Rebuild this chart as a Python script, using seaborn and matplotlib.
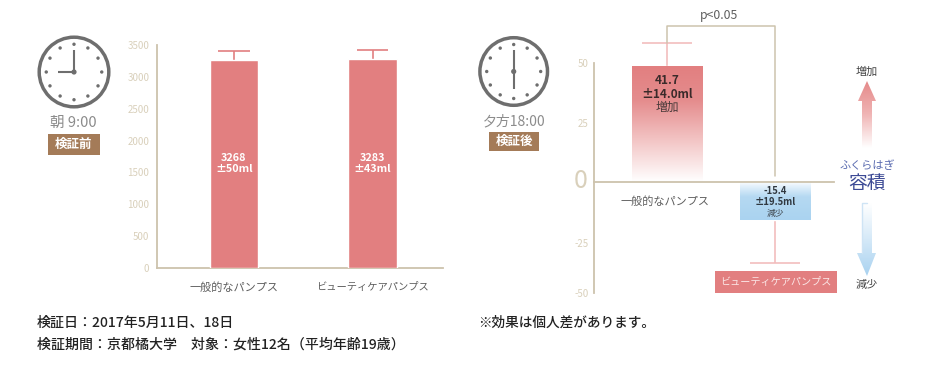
import numpy as np
import matplotlib
matplotlib.use("Agg")
import matplotlib.pyplot as plt
from matplotlib.colors import LinearSegmentedColormap
from matplotlib.patches import Circle, Polygon, Rectangle
import seaborn as sns

# data
pumps = ["一般的なパンプス", "ビューティケアパンプス"]
before_values = [3268, 3283]
before_whisker = [3400, 3420]
before_labels = ["3268\n±50ml", "3283\n±43ml"]
before_ticks = [0, 500, 1000, 1500, 2000, 2500, 3000, 3500]

# heights as drawn in the picture, the printed numbers differ
after_values = [48.7, -16.0]
after_whisker = [58.4, -34.0]
after_ticks = [50, 24.8, 0, -25.6, -46.6]
after_ticklabels = ["50", "25", "", "-25", "-50"]

BEIGE = "#cdc3ad"
TICK = "#d9d0bb"
GREY = "#5e5e5e"
RED = "#e27f80"
PINK = "#f2bdbd"
BROWN = "#a47b58"

sns.set_theme(style="white")
plt.rcParams["font.family"] = ["Noto Sans CJK JP", "DejaVu Sans"]

W, H = 930, 365
fig = plt.figure(figsize=(W / 100, H / 100), dpi=100)


def px_axes(left, right, top, bottom):
    return fig.add_axes([left / W, 1 - bottom / H, (right - left) / W, (bottom - top) / H])


# left chart
ax1 = px_axes(157, 443, 45, 268)
sns.barplot(x=pumps, y=before_values, ax=ax1, color=RED, saturation=1, width=0.35, zorder=3)
ax1.vlines([0, 1], before_values, before_whisker, color=RED, lw=1.2, zorder=2)
ax1.hlines(before_whisker, [-0.115, 0.885], [0.115, 1.115], color=RED, lw=1.2, zorder=2)
ax1.set_xlim(-0.556, 1.509)
ax1.set_ylim(0, 3500)
ax1.set_yticks(before_ticks)
ax1.tick_params(axis="y", length=0, pad=5.5, labelsize=7, labelcolor=TICK)
ax1.tick_params(axis="x", length=0, pad=10, labelcolor=GREY)
ax1.get_xticklabels()[0].set_fontsize(8)
ax1.get_xticklabels()[1].set_fontsize(7.4)
ax1.set_ylabel("")
for s in ["top", "right"]:
    ax1.spines[s].set_visible(False)
for s in ["left", "bottom"]:
    ax1.spines[s].set_color(BEIGE)
    ax1.spines[s].set_linewidth(1.3)
for i, txt in enumerate(before_labels):
    ax1.text(i, 1640, txt, ha="center", va="center", color="white", fontsize=7.8,
             fontweight="bold", linespacing=1.1, zorder=5)

# right chart
ax2 = px_axes(594, 834, 10, 293)
sns.barplot(x=pumps, y=after_values, ax=ax2, color="white", saturation=1, width=0.65, zorder=3)
ax2.vlines([0, 1], after_values, after_whisker, color=PINK, lw=1.2, zorder=2)
ax2.hlines(after_whisker, [-0.235, 0.765], [0.235, 1.235], color=PINK, lw=1.2, zorder=2)

cmap_red = LinearSegmentedColormap.from_list("r", [(0, RED), (0.3, "#e58d8e"), (0.65, "#f3c6c6"), (1, "#ffffff")])
cmap_blue = LinearSegmentedColormap.from_list("b", [(0, "#ffffff"), (0.12, "#e6f2fb"), (0.4, "#b5d9f2"), (1, "#aad3f0")])
for bar, cm in zip(ax2.patches, [cmap_red, cmap_blue]):
    x0, w = bar.get_x(), bar.get_width()
    y0, h = bar.get_y(), bar.get_height()
    grad = np.linspace(0, 1, 128).reshape(-1, 1)
    ax2.imshow(grad, extent=(x0, x0 + w, min(y0, y0 + h), max(y0, y0 + h)),
               cmap=cm, aspect="auto", origin="upper", zorder=4)
ax2.set_xlim(-0.676, 1.546)
ax2.set_ylim(-46.6, 72.3)

ax2.set_yticks(after_ticks)
ax2.set_yticklabels(after_ticklabels)
ax2.tick_params(axis="y", length=0, pad=4, labelsize=7, labelcolor=TICK)
ax2.set_xticks([])
ax2.set_ylabel("")
for s in ["top", "right"]:
    ax2.spines[s].set_visible(False)
ax2.spines["bottom"].set_position(("data", 0))
ax2.spines["bottom"].set_zorder(7)
for s in ["left", "bottom"]:
    ax2.spines[s].set_color(BEIGE)
    ax2.spines[s].set_linewidth(1.3)
ax2.spines["left"].set_bounds(-46.6, 50)
ax2.patch.set_alpha(0)

# bracket
ax2.plot([0, 0, 1, 1], [58.4, 65.5, 65.5, 2.7], color=BEIGE, lw=1.1, zorder=2)

ax2.text(0.0, 42.6, "41.7", ha="center", va="center", fontsize=8.5, fontweight="bold", color="#3a2a2a", zorder=6)
ax2.text(0.0, 36.9, "±14.0ml", ha="center", va="center", fontsize=8.5, fontweight="bold", color="#3a2a2a", zorder=6)
ax2.text(0.0, 31.3, "増加", ha="center", va="center", fontsize=8.5, color="#4a3a3a", zorder=6)
ax2.text(1.0, -3.9, "-15.4", ha="center", va="center", fontsize=6.8, fontweight="bold", color="#303840", zorder=6)
ax2.text(1.0, -8.4, "±19.5ml", ha="center", va="center", fontsize=6.8, fontweight="bold", color="#303840", zorder=6)
ax2.text(1.0, -13.0, "減少", ha="center", va="center", fontsize=6.3, color="#404850", zorder=6)

# overlay in pixel coordinates for clocks, badges, notes
ov = fig.add_axes([0, 0, 1, 1], zorder=10)
ov.axis("off")
ov.patch.set_alpha(0)

CLOCK = "#6e6e6e"


def clock(cx, cy, r, hands):
    ov.add_patch(Circle((cx, cy), r - 1.7, fill=False, ec=CLOCK, lw=2.5))
    for a in np.arange(12) * np.pi / 6:
        ov.add_patch(Circle((cx + 0.76 * r * np.sin(a), cy - 0.76 * r * np.cos(a)), 1.7, fc=CLOCK, ec="none"))
    for dx, dy in hands:
        ov.plot([cx, cx + dx], [cy, cy + dy], color=CLOCK, lw=1.5, solid_capstyle="butt")
    ov.add_patch(Circle((cx, cy), 2.6, fc=CLOCK, ec="none"))


clock(74, 72, 36.5, [(-16, 0), (0, -22)])
clock(513.7, 71.5, 35.5, [(0, 17), (0, -21.5)])

ov.text(73, 123, "朝 9:00", ha="center", va="center", fontsize=10.5, color="#8c8c8c")
ov.text(514, 121, "夕方18:00", ha="center", va="center", fontsize=10, color="#8c8c8c")
ov.add_patch(Rectangle((48, 134), 52, 21, fc=BROWN, ec="none"))
ov.add_patch(Rectangle((489, 132), 50, 19, fc=BROWN, ec="none"))
ov.text(73.5, 144.5, "検証前", ha="center", va="center", fontsize=9, fontweight="bold", color="white")
ov.text(514, 141.5, "検証後", ha="center", va="center", fontsize=9, fontweight="bold", color="white")

ov.text(574, 181.5, "0", ha="left", va="center", fontsize=18, color=TICK)
ov.text(719, 16, "p<0.05", ha="center", va="center", fontsize=8.8, color=GREY)
ov.text(665.5, 202, pumps[0], ha="center", va="center", fontsize=8, color=GREY)
ov.add_patch(Rectangle((715, 271), 122, 22, fc=RED, ec="none"))
ov.text(776, 282, pumps[1], ha="center", va="center", fontsize=7.3, color="#fbe6e6")

# gradient arrows
up = Polygon([(867, 81), (876, 101), (872, 101), (872, 148), (862, 148), (862, 101), (858, 101)],
             closed=True, fc="none", ec="none")
ov.add_patch(up)
im = ov.imshow(np.linspace(0, 1, 128).reshape(-1, 1), extent=(855, 879, 148, 81), origin="upper", aspect="auto",
               cmap=LinearSegmentedColormap.from_list("u", ["#e58a8a", "#f0b5b5", "#ffffff"]))
im.set_clip_path(up)
down = Polygon([(867, 276), (876, 253), (872, 253), (872, 203), (862, 203), (862, 253), (857, 253)],
               closed=True, fc="none", ec="none")
ov.add_patch(down)
im = ov.imshow(np.linspace(0, 1, 128).reshape(-1, 1), extent=(855, 879, 276, 203), origin="upper", aspect="auto",
               cmap=LinearSegmentedColormap.from_list("d", ["#ffffff", "#d5e9f8", "#a9d2f0"]))
im.set_clip_path(down)
ov.plot([862, 862, 867], [253, 203, 203], color="#cfe4f5", lw=1)
ov.set_xlim(0, W)
ov.set_ylim(H, 0)

ov.text(867, 72, "増加", ha="center", va="center", fontsize=8, color="#444444")
ov.text(867, 285, "減少", ha="center", va="center", fontsize=8, color="#444444")
ov.text(867, 166, "ふくらはぎ", ha="center", va="center", fontsize=8, color="#5a6bb0")
ov.text(867, 183, "容積", ha="center", va="center", fontsize=13.5, color="#3c4a95")

ov.text(37, 323, "検証日：2017年5月11日、18日", ha="left", va="center", fontsize=10.05, fontweight="medium", color="#222222")
ov.text(37, 345, "検証期間：京都橘大学　対象：女性12名（平均年齢19歳）", ha="left", va="center", fontsize=10.05, fontweight="medium", color="#222222")
ov.text(478, 323, "※効果は個人差があります。", ha="left", va="center", fontsize=9.85, fontweight="medium", color="#222222")

fig.savefig("out.png", dpi=100)
